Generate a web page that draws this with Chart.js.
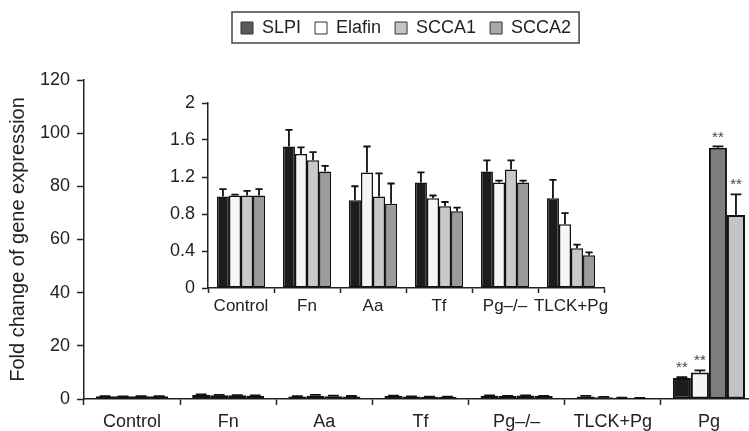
<!DOCTYPE html>
<html>
<head>
<meta charset="utf-8">
<script src="https://cdn.jsdelivr.net/npm/chart.js@4.4.0/dist/chart.umd.min.js"></script>
<style>
  body { margin: 0; background: #fff; overflow: hidden; }
  #wrap { position: relative; width: 749px; height: 431px; overflow: hidden; }
  #mainChart { position: absolute; left: 0; top: 0; }
  #insetChart { position: absolute; left: 150px; top: 80px; }
</style>
</head>
<body>
<div id="wrap">
  <canvas id="mainChart" width="760" height="431"></canvas>
  <canvas id="insetChart" width="470" height="250"></canvas>
</div>
<script>
// datos
const categories = ['Control', 'Fn', 'Aa', 'Tf', 'Pg–/–', 'TLCK+Pg', 'Pg'];
const seriesNames = ['SLPI', 'Elafin', 'SCCA1', 'SCCA2'];

const slpi      = [0.99, 1.53, 0.95, 1.14, 1.26, 0.97, 7.9];
const slpiErr   = [0.08, 0.18, 0.15, 0.11, 0.12, 0.20, 0.3];
const elafin    = [1.00, 1.45, 1.25, 0.97, 1.14, 0.69, 10.0];
const elafinErr = [0.01, 0.07, 0.28, 0.03, 0.02, 0.12, 0.8];
const scca1     = [1.00, 1.38, 0.99, 0.885, 1.28, 0.43, 94.5];
const scca1Err  = [0.05, 0.09, 0.25, 0.045, 0.10, 0.04, 0.5];
const scca2     = [1.00, 1.26, 0.91, 0.83, 1.14, 0.355, 69.2];
const scca2Err  = [0.07, 0.06, 0.22, 0.04, 0.02, 0.03, 7.8];
const significant = [false, false, false, false, false, false, true];

const yTicksMain = [0, 20, 40, 60, 80, 100, 120];
const yTicksInset = [0, 0.4, 0.8, 1.2, 1.6, 2];
const yLabelsInset = ['0', '0.4', '0.8', '1.2', '1.6', '2'];
const insetCount = 6; // el recuadro no muestra Pg

// colores
const barColors = ['#1c1c1c', '#f5f5f5', '#c9c9cb', '#9b9b9d'];
const pgColors = ['#1c1c1c', '#f5f5f5', '#7d7d80', '#c3c3c6']; // en Pg los grises estan invertidos
const legendColors = ['#5a5a5a', '#ffffff', '#c4c4c6', '#a9a9ab'];
const ink = '#222';

Chart.defaults.font.family = '"Liberation Sans", Arial, sans-serif';
Chart.defaults.color = ink;

const seriesValues = [slpi, elafin, scca1, scca2];
const seriesErrors = [slpiErr, elafinErr, scca1Err, scca2Err];

function buildDatasets(n, withPg, border) {
	return seriesNames.map((name, i) => ({
		label: name,
		data: seriesValues[i].slice(0, n),
		errors: seriesErrors[i].slice(0, n),
		stars: significant.slice(0, n),
		backgroundColor: categories.slice(0, n).map(c => (withPg && c === 'Pg') ? pgColors[i] : barColors[i]),
		borderColor: '#111',
		borderWidth: border,
		borderSkipped: false
	}));
}

// barras de error (solo hacia arriba) y asteriscos
const errorBarPlugin = {
	id: 'errorBars',
	afterDatasetsDraw(chart, args, opts) {
		const ctx = chart.ctx;
		const y = chart.scales.y;
		ctx.save();
		ctx.strokeStyle = '#111';
		ctx.lineWidth = 1.8;
		chart.data.datasets.forEach((ds, i) => {
			chart.getDatasetMeta(i).data.forEach((bar, j) => {
				const top = y.getPixelForValue(ds.data[j] + ds.errors[j]);
				const cap = bar.width * 0.3;
				ctx.beginPath();
				ctx.moveTo(bar.x, bar.y);
				ctx.lineTo(bar.x, top);
				ctx.moveTo(bar.x - cap, top);
				ctx.lineTo(bar.x + cap, top);
				ctx.stroke();
				if (opts.stars && ds.stars[j]) {
					ctx.fillStyle = '#444';
					ctx.font = '15px "Liberation Sans", Arial, sans-serif';
					ctx.textAlign = 'center';
					ctx.textBaseline = 'middle';
					ctx.fillText('**', bar.x, top - 9);
				}
			});
		});
		ctx.restore();
	}
};

// coloca la leyenda y le dibuja el marco
const legendBoxPlugin = {
	id: 'legendBox',
	afterLayout(chart, args, opts) {
		const lg = chart.legend;
		const pad = lg.options.labels.padding;
		const start = (lg.left + pad + lg.right - lg.lineWidths[0]) / 2;
		const dx = opts.firstX - start;
		lg.left += dx;
		lg.right += dx;
		lg.top = opts.top;
		lg.bottom = opts.top + lg.height;
	},
	afterDraw(chart) {
		const hb = chart.legend.legendHitBoxes;
		if (!hb || !hb.length) return;
		const last = hb[hb.length - 1];
		const mid = hb[0].top + hb[0].height / 2;
		const ctx = chart.ctx;
		ctx.save();
		ctx.strokeStyle = '#444';
		ctx.lineWidth = 1.5;
		ctx.strokeRect(hb[0].left - 9, mid - 16, last.left + last.width + 17 - hb[0].left, 31);
		ctx.restore();
	}
};

// grafico principal
new Chart(document.getElementById('mainChart'), {
	type: 'bar',
	data: {
		labels: categories,
		datasets: buildDatasets(categories.length, true, 2)
	},
	options: {
		responsive: false,
		animation: false,
		devicePixelRatio: 1,
		layout: { padding: { left: 0, right: 3, top: 0, bottom: 0 } },
		datasets: { bar: { categoryPercentage: 0.75, barPercentage: 1 } },
		plugins: {
			legend: {
				position: 'top',
				labels: {
					boxWidth: 12,
					boxHeight: 12,
					padding: 14,
					font: { size: 18 },
					generateLabels: chart => chart.data.datasets.map((ds, i) => ({
						text: ds.label,
						fillStyle: legendColors[i],
						strokeStyle: '#333',
						lineWidth: 1,
						hidden: false,
						datasetIndex: i,
						fontColor: ink
					}))
				},
				onClick: null
			},
			tooltip: { enabled: false },
			errorBars: { stars: true },
			legendBox: { firstX: 241, top: 5 }
		},
		scales: {
			x: {
				grid: { offset: true, drawOnChartArea: false, tickLength: 6, tickColor: ink, tickWidth: 1.5 },
				border: { color: ink, width: 1.5 },
				ticks: { font: { size: 18 }, padding: 6, maxRotation: 0, autoSkip: false },
				afterFit: s => { s.height = 32; }
			},
			y: {
				min: yTicksMain[0],
				max: yTicksMain[yTicksMain.length - 1],
				afterBuildTicks: s => { s.ticks = yTicksMain.map(v => ({ value: v })); },
				grid: { drawOnChartArea: false, tickLength: 7, tickColor: ink, tickWidth: 1.5 },
				border: { color: ink, width: 1.5 },
				ticks: { font: { size: 18 }, padding: 7 },
				title: {
					display: true,
					text: 'Fold change of gene expression',
					font: { size: 20 },
					padding: { top: 6, bottom: 0 }
				},
				afterFit: s => { s.width = 84; s.paddingTop = 80; }
			}
		}
	},
	plugins: [errorBarPlugin, legendBoxPlugin]
});

// recuadro ampliado
new Chart(document.getElementById('insetChart'), {
	type: 'bar',
	data: {
		labels: categories.slice(0, insetCount),
		datasets: buildDatasets(insetCount, false, 1.5)
	},
	options: {
		responsive: false,
		animation: false,
		devicePixelRatio: 1,
		layout: { padding: { left: 0, right: 16, top: 0, bottom: 0 } },
		datasets: { bar: { categoryPercentage: 0.73, barPercentage: 1 } },
		plugins: {
			legend: { display: false },
			tooltip: { enabled: false },
			errorBars: { stars: false }
		},
		scales: {
			x: {
				grid: { offset: true, drawOnChartArea: false, tickLength: 5, tickColor: ink, tickWidth: 1.5 },
				border: { color: ink, width: 1.5 },
				ticks: { font: { size: 17 }, padding: 3, maxRotation: 0, autoSkip: false },
				afterFit: s => { s.height = 42; }
			},
			y: {
				min: yTicksInset[0],
				max: yTicksInset[yTicksInset.length - 1],
				afterBuildTicks: s => { s.ticks = yTicksInset.map(v => ({ value: v })); },
				grid: { drawOnChartArea: false, tickLength: 6, tickColor: ink, tickWidth: 1.5 },
				border: { color: ink, width: 1.5 },
				ticks: { font: { size: 18 }, padding: 7, callback: (v, i) => yLabelsInset[i] },
				afterFit: s => { s.width = 58; s.paddingTop = 23; }
			}
		}
	},
	plugins: [errorBarPlugin]
});
</script>
</body>
</html>
